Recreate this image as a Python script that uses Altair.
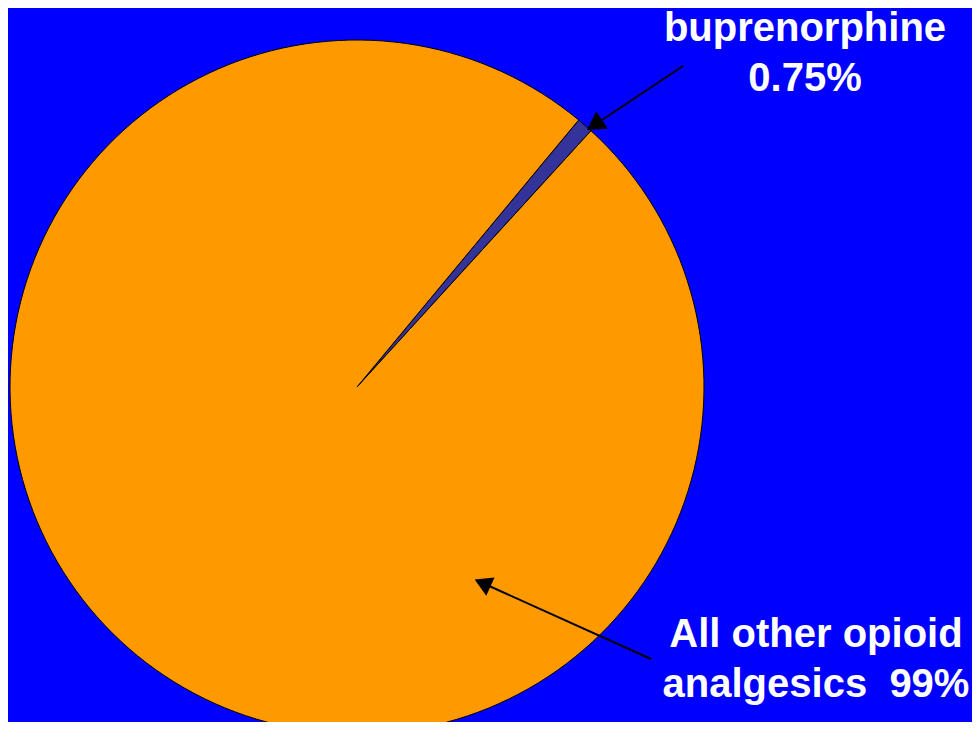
import math
import altair as alt
import pandas as pd

# Pie data
names = ["buprenorphine", "All other opioid analgesics"]
values = [0.75, 99.25]
colors = ["#333399", "#FF9900"]
order = [0, 1]

# Annotation labels (one row per line)
label_lines = ["buprenorphine", "0.75%", "All other opioid", "analgesics\u00a0\u00a099%"]
label_x = [797, 797, 808, 808]
label_y = [33, 83, 639, 689]

# Arrow geometry (pixel positions in chart coordinates)
arrow_tail_x = [675, 643]
arrow_tail_y = [58, 651]
arrow_head_x = [586.5, 474.5]
arrow_head_y = [117, 575]
arrow_angle = [236.3, 294.3]
arrow_size = [440, 400]

W, H = 964, 714
CX, CY, R = 349, 379, 347
START = math.radians(39.7)

pie_df = pd.DataFrame({"name": names, "value": values, "order": order})
lab_df = pd.DataFrame({"text": label_lines, "x": label_x, "y": label_y})
arr_df = pd.DataFrame({
    "x": arrow_tail_x, "y": arrow_tail_y,
    "x2": arrow_head_x, "y2": arrow_head_y,
    "angle": arrow_angle, "size": arrow_size,
})

pie = alt.Chart(pie_df).mark_arc(outerRadius=R, stroke="black", strokeWidth=1).encode(
    theta=alt.Theta("value:Q", stack=True, scale=alt.Scale(range=[START, START + 2 * math.pi])),
    color=alt.Color("name:N", scale=alt.Scale(domain=names, range=colors), legend=None),
    order=alt.Order("order:Q"),
    x=alt.value(CX),
    y=alt.value(CY),
)

lines = alt.Chart(arr_df).mark_rule(color="black", strokeWidth=2).encode(
    x=alt.X("x:Q", scale=None),
    y=alt.Y("y:Q", scale=None),
    x2="x2:Q",
    y2="y2:Q",
)

heads = alt.Chart(arr_df).mark_point(shape="triangle-up", filled=True, color="black", opacity=1).encode(
    x=alt.X("x2:Q", scale=None),
    y=alt.Y("y2:Q", scale=None),
    angle=alt.Angle("angle:Q", scale=None),
    size=alt.Size("size:Q", scale=None),
)

texts = alt.Chart(lab_df).mark_text(
    font="Liberation Sans", fontWeight="bold", fontSize=40, color="white",
    align="center", baseline="alphabetic",
).encode(
    x=alt.X("x:Q", scale=None),
    y=alt.Y("y:Q", scale=None),
    text="text:N",
)

chart = alt.layer(pie, lines, heads, texts).properties(
    width=W, height=H,
    autosize=alt.AutoSizeParams(type="none"),
    padding=0,
    background="#0000FF",
).configure_view(stroke=None)

chart.save("out.html", embed_options={"renderer": "svg", "actions": False})
